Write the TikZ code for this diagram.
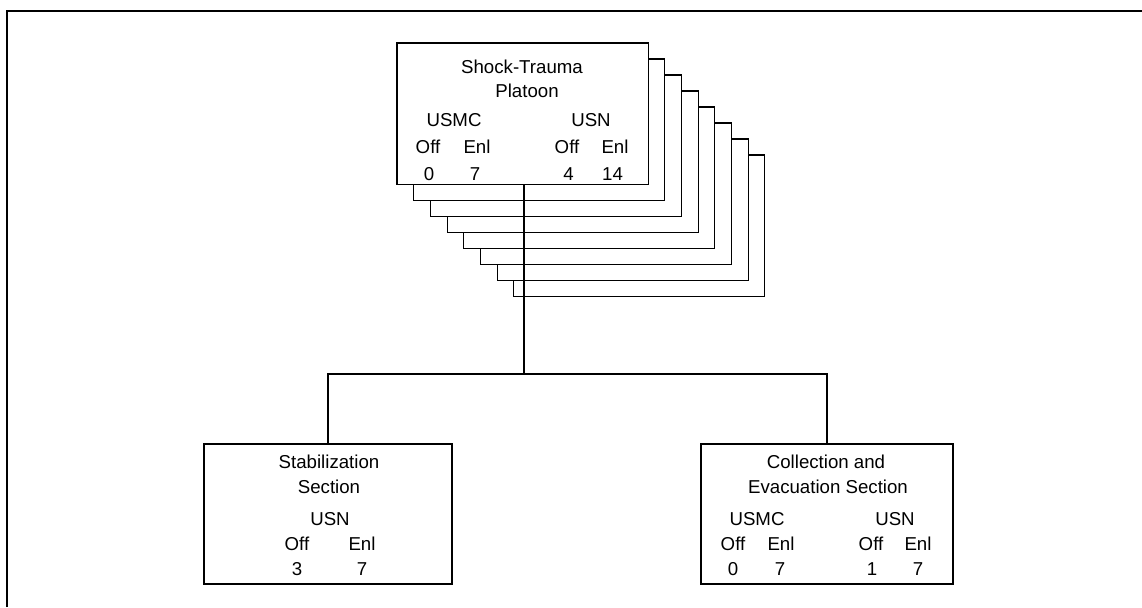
\documentclass[tikz,border=0pt]{standalone}
\usepackage{fontspec}
\setmainfont{Liberation Sans}
\usetikzlibrary{positioning}
\tikzset{
 unitbox/.style={
 rectangle,
 draw=black,
 fill=white,
 line width=0.8pt,
 inner sep=0pt
 },
 platoonbox/.style={unitbox, minimum width=188.3pt, minimum height=105.8pt},
 sectionbox/.style={unitbox, minimum height=105pt},
 lbl/.style={font=\fontsize{14}{16}\selectfont, inner sep=0pt, anchor=base},
 link/.style={draw=black, line width=1pt},
 outline/.style={draw=black, line width=1.6pt}
}

\begin{document}
\begin{tikzpicture}[x=0.75pt, y=-0.75pt]
 \useasboundingbox (0,0) rectangle (1142,607);
 \draw[outline] (6.7,607) -- (6.7,10.7) -- (1142,10.7);

 % platoon copies stacked behind the front box
 \foreach \i in {7,...,1}
  \node[platoonbox] (stack\i) at ({522.5+16.7*\i},{113.5+16*\i}) {};
 \node[platoonbox] (platoon) at (522.5,113.5) {};
 \node[lbl] (pTitleA) at (522,73) {Shock-Trauma};
 \node[lbl] (pTitleB) at (527,97) {Platoon};
 \node[lbl] (pUsmc) at (454,126.5) {USMC};
 \node[lbl] (pUsn) at (591,126.5) {USN};
 \foreach \x/\t [count=\k] in {428/Off,477/Enl,567/Off,615/Enl}
  \node[lbl] (pHead\k) at (\x,153) {\t};
 \foreach \x/\t [count=\k] in {429/0,475/7,568.5/4,612.5/14}
  \node[lbl] (pNum\k) at (\x,180) {\t};

 % sections
 \node[sectionbox, minimum width=186pt] (stab) at (328,514) {};
 \node[lbl] (sTitleA) at (329,468) {Stabilization};
 \node[lbl] (sTitleB) at (329,493) {Section};
 \node[lbl] (sUsn) at (330,525) {USN};
 \node[lbl] (sOff) at (297,550) {Off};
 \node[lbl] (sEnl) at (362,550) {Enl};
 \node[lbl] (sNumA) at (297,575) {3};
 \node[lbl] (sNumB) at (362,575) {7};

 \node[sectionbox, minimum width=189pt] (evac) at (827,514) {};
 \node[lbl] (eTitleA) at (826,468) {Collection and};
 \node[lbl] (eTitleB) at (828,493) {Evacuation Section};
 \node[lbl] (eUsmc) at (757,525) {USMC};
 \node[lbl] (eUsn) at (895,525) {USN};
 \foreach \x/\t [count=\k] in {733/Off,781/Enl,871/Off,918/Enl}
  \node[lbl] (eHead\k) at (\x,550) {\t};
 \foreach \x/\t [count=\k] in {733/0,780/7,872/1,918/7}
  \node[lbl] (eNum\k) at (\x,575) {\t};

 \coordinate (split) at (524,374);
 \draw[link] (platoon.south -| split) -- (split);
 \draw[link] (stab.north) |- (split) -| (evac.north);
\end{tikzpicture}
\end{document}
